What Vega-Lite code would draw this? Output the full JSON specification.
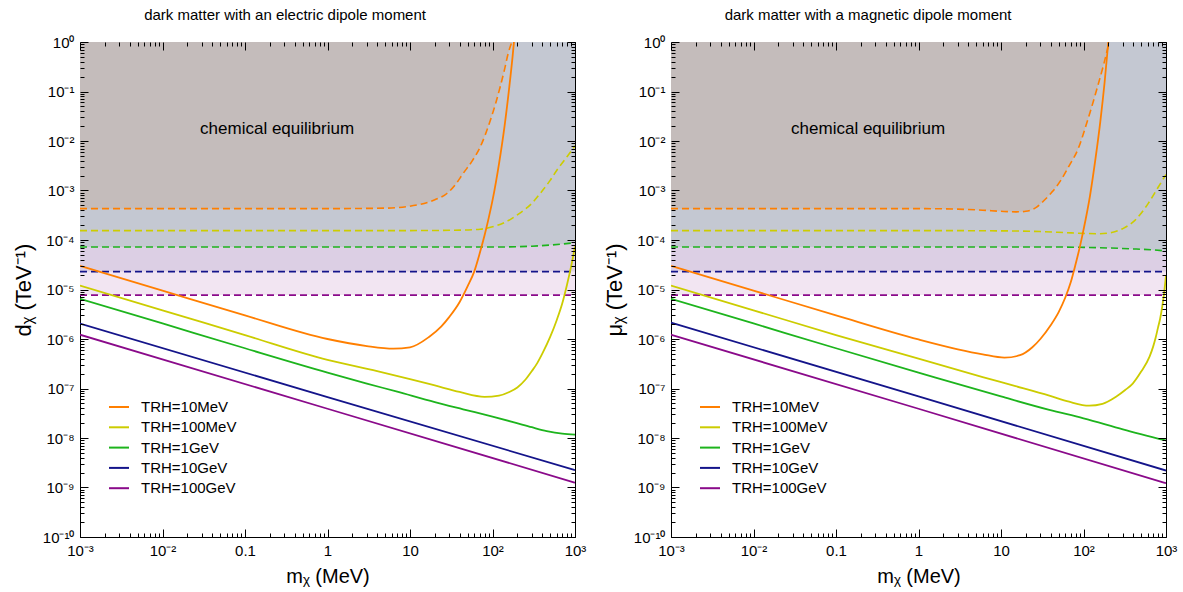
{
  "$schema": "https://vega.github.io/schema/vega-lite/v6.json",
  "padding": {"left": 11, "top": 7, "right": 8, "bottom": 2},
  "config": {
    "font": "Liberation Sans",
    "view": {"stroke": "black", "strokeWidth": 1},
    "axis": {"grid": false, "labelColor": "black", "titleColor": "black", "tickColor": "black", "labelFont": "Liberation Sans", "titleFont": "Liberation Sans"},
    "legend": {"labelFont": "Liberation Sans"}
  },
  "resolve": {"scale": {"color": "independent", "stroke": "independent"}, "legend": {"color": "independent", "stroke": "independent"}},
  "datasets": {
    "c": [
      {"p":"E","k":"s","s":"10MeV","x":0.001,"y":3e-5},{"p":"E","k":"s","s":"10MeV","x":0.01,"y":9.5e-6},{"p":"E","k":"s","s":"10MeV","x":0.1,"y":3e-6},{"p":"E","k":"s","s":"10MeV","x":1,"y":1e-6},{"p":"E","k":"s","s":"10MeV","x":3,"y":7.2e-7},{"p":"E","k":"s","s":"10MeV","x":6.3,"y":6.4e-7},{"p":"E","k":"s","s":"10MeV","x":10,"y":6.8e-7},{"p":"E","k":"s","s":"10MeV","x":17,"y":1.1e-6},{"p":"E","k":"s","s":"10MeV","x":24,"y":1.8e-6},{"p":"E","k":"s","s":"10MeV","x":30,"y":2.8e-6},{"p":"E","k":"s","s":"10MeV","x":40,"y":5.6e-6},{"p":"E","k":"s","s":"10MeV","x":50,"y":1.17e-5},{"p":"E","k":"s","s":"10MeV","x":60,"y":2.3e-5},{"p":"E","k":"s","s":"10MeV","x":70,"y":5.4e-5},{"p":"E","k":"s","s":"10MeV","x":80,"y":1.23e-4},{"p":"E","k":"s","s":"10MeV","x":90,"y":2.8e-4},{"p":"E","k":"s","s":"10MeV","x":100,"y":6.3e-4},{"p":"E","k":"s","s":"10MeV","x":120,"y":3.5e-3},{"p":"E","k":"s","s":"10MeV","x":140,"y":2e-2},{"p":"E","k":"s","s":"10MeV","x":160,"y":0.126},{"p":"E","k":"s","s":"10MeV","x":175,"y":0.5},{"p":"E","k":"s","s":"10MeV","x":182,"y":1},
      {"p":"E","k":"s","s":"100MeV","x":0.001,"y":1.2e-5},{"p":"E","k":"s","s":"100MeV","x":0.01,"y":3.8e-6},{"p":"E","k":"s","s":"100MeV","x":0.1,"y":1.2e-6},{"p":"E","k":"s","s":"100MeV","x":1,"y":3.8e-7},{"p":"E","k":"s","s":"100MeV","x":4,"y":2.25e-7},{"p":"E","k":"s","s":"100MeV","x":10,"y":1.55e-7},{"p":"E","k":"s","s":"100MeV","x":20,"y":1.15e-7},{"p":"E","k":"s","s":"100MeV","x":40,"y":8.5e-8},{"p":"E","k":"s","s":"100MeV","x":80,"y":6.8e-8},{"p":"E","k":"s","s":"100MeV","x":120,"y":7.2e-8},{"p":"E","k":"s","s":"100MeV","x":160,"y":8.5e-8},{"p":"E","k":"s","s":"100MeV","x":200,"y":1.05e-7},{"p":"E","k":"s","s":"100MeV","x":250,"y":1.5e-7},{"p":"E","k":"s","s":"100MeV","x":300,"y":2.25e-7},{"p":"E","k":"s","s":"100MeV","x":350,"y":3.3e-7},{"p":"E","k":"s","s":"100MeV","x":400,"y":5e-7},{"p":"E","k":"s","s":"100MeV","x":500,"y":1.1e-6},{"p":"E","k":"s","s":"100MeV","x":600,"y":2.4e-6},{"p":"E","k":"s","s":"100MeV","x":700,"y":5.2e-6},{"p":"E","k":"s","s":"100MeV","x":800,"y":1.25e-5},{"p":"E","k":"s","s":"100MeV","x":900,"y":3e-5},{"p":"E","k":"s","s":"100MeV","x":1000,"y":7.4e-5},
      {"p":"E","k":"s","s":"1GeV","x":0.001,"y":6.5e-6},{"p":"E","k":"s","s":"1GeV","x":0.01,"y":2.06e-6},{"p":"E","k":"s","s":"1GeV","x":0.1,"y":6.5e-7},{"p":"E","k":"s","s":"1GeV","x":1,"y":2.1e-7},{"p":"E","k":"s","s":"1GeV","x":3,"y":1.26e-7},{"p":"E","k":"s","s":"1GeV","x":7,"y":8.6e-8},{"p":"E","k":"s","s":"1GeV","x":20,"y":5.3e-8},{"p":"E","k":"s","s":"1GeV","x":44,"y":3.8e-8},{"p":"E","k":"s","s":"1GeV","x":100,"y":2.7e-8},{"p":"E","k":"s","s":"1GeV","x":178,"y":2.1e-8},{"p":"E","k":"s","s":"1GeV","x":300,"y":1.65e-8},{"p":"E","k":"s","s":"1GeV","x":454,"y":1.38e-8},{"p":"E","k":"s","s":"1GeV","x":700,"y":1.22e-8},{"p":"E","k":"s","s":"1GeV","x":1000,"y":1.17e-8},
      {"p":"E","k":"s","s":"10GeV","x":0.001,"y":2.05e-6},{"p":"E","k":"s","s":"10GeV","x":1,"y":6.7e-8},{"p":"E","k":"s","s":"10GeV","x":1000,"y":2.25e-9},
      {"p":"E","k":"s","s":"100GeV","x":0.001,"y":1.22e-6},{"p":"E","k":"s","s":"100GeV","x":1,"y":3.9e-8},{"p":"E","k":"s","s":"100GeV","x":1000,"y":1.25e-9},
      {"p":"E","k":"d","s":"10MeV","x":0.001,"y":4.3e-4},{"p":"E","k":"d","s":"10MeV","x":1,"y":4.3e-4},{"p":"E","k":"d","s":"10MeV","x":5,"y":4.4e-4},{"p":"E","k":"d","s":"10MeV","x":13,"y":5.2e-4},{"p":"E","k":"d","s":"10MeV","x":20,"y":6.5e-4},{"p":"E","k":"d","s":"10MeV","x":28,"y":8.7e-4},{"p":"E","k":"d","s":"10MeV","x":36,"y":1.35e-3},{"p":"E","k":"d","s":"10MeV","x":44,"y":2.2e-3},{"p":"E","k":"d","s":"10MeV","x":57,"y":4e-3},{"p":"E","k":"d","s":"10MeV","x":71,"y":7.6e-3},{"p":"E","k":"d","s":"10MeV","x":94,"y":2.6e-2},{"p":"E","k":"d","s":"10MeV","x":110,"y":6e-2},{"p":"E","k":"d","s":"10MeV","x":124,"y":0.125},{"p":"E","k":"d","s":"10MeV","x":140,"y":0.28},{"p":"E","k":"d","s":"10MeV","x":155,"y":0.59},{"p":"E","k":"d","s":"10MeV","x":172,"y":1},
      {"p":"E","k":"d","s":"100MeV","x":0.001,"y":1.55e-4},{"p":"E","k":"d","s":"100MeV","x":10,"y":1.55e-4},{"p":"E","k":"d","s":"100MeV","x":40,"y":1.58e-4},{"p":"E","k":"d","s":"100MeV","x":71,"y":1.65e-4},{"p":"E","k":"d","s":"100MeV","x":100,"y":1.85e-4},{"p":"E","k":"d","s":"100MeV","x":136,"y":2.2e-4},{"p":"E","k":"d","s":"100MeV","x":215,"y":3.5e-4},{"p":"E","k":"d","s":"100MeV","x":300,"y":5.5e-4},{"p":"E","k":"d","s":"100MeV","x":380,"y":8.8e-4},{"p":"E","k":"d","s":"100MeV","x":500,"y":1.6e-3},{"p":"E","k":"d","s":"100MeV","x":605,"y":2.6e-3},{"p":"E","k":"d","s":"100MeV","x":800,"y":4.8e-3},{"p":"E","k":"d","s":"100MeV","x":1000,"y":8e-3},
      {"p":"E","k":"d","s":"1GeV","x":0.001,"y":7.2e-5},{"p":"E","k":"d","s":"1GeV","x":100,"y":7.2e-5},{"p":"E","k":"d","s":"1GeV","x":300,"y":7.5e-5},{"p":"E","k":"d","s":"1GeV","x":500,"y":7.9e-5},{"p":"E","k":"d","s":"1GeV","x":700,"y":8.3e-5},{"p":"E","k":"d","s":"1GeV","x":1000,"y":8.8e-5},
      {"p":"E","k":"d","s":"10GeV","x":0.001,"y":2.3e-5},{"p":"E","k":"d","s":"10GeV","x":1000,"y":2.3e-5},
      {"p":"E","k":"d","s":"100GeV","x":0.001,"y":7.7e-6},{"p":"E","k":"d","s":"100GeV","x":1000,"y":7.7e-6},
      {"p":"M","k":"s","s":"10MeV","x":0.001,"y":3e-5},{"p":"M","k":"s","s":"10MeV","x":0.01,"y":9.5e-6},{"p":"M","k":"s","s":"10MeV","x":0.1,"y":3e-6},{"p":"M","k":"s","s":"10MeV","x":1,"y":9.8e-7},{"p":"M","k":"s","s":"10MeV","x":3,"y":6.2e-7},{"p":"M","k":"s","s":"10MeV","x":6,"y":4.9e-7},{"p":"M","k":"s","s":"10MeV","x":11,"y":4.2e-7},{"p":"M","k":"s","s":"10MeV","x":17,"y":4.7e-7},{"p":"M","k":"s","s":"10MeV","x":24,"y":6.8e-7},{"p":"M","k":"s","s":"10MeV","x":30,"y":1e-6},{"p":"M","k":"s","s":"10MeV","x":40,"y":1.9e-6},{"p":"M","k":"s","s":"10MeV","x":50,"y":3.5e-6},{"p":"M","k":"s","s":"10MeV","x":60,"y":6.8e-6},{"p":"M","k":"s","s":"10MeV","x":70,"y":1.4e-5},{"p":"M","k":"s","s":"10MeV","x":80,"y":3.2e-5},{"p":"M","k":"s","s":"10MeV","x":90,"y":7.1e-5},{"p":"M","k":"s","s":"10MeV","x":100,"y":1.6e-4},{"p":"M","k":"s","s":"10MeV","x":120,"y":7.9e-4},{"p":"M","k":"s","s":"10MeV","x":140,"y":4.5e-3},{"p":"M","k":"s","s":"10MeV","x":160,"y":2.5e-2},{"p":"M","k":"s","s":"10MeV","x":180,"y":0.15},{"p":"M","k":"s","s":"10MeV","x":200,"y":1},
      {"p":"M","k":"s","s":"100MeV","x":0.001,"y":1.2e-5},{"p":"M","k":"s","s":"100MeV","x":0.01,"y":3.8e-6},{"p":"M","k":"s","s":"100MeV","x":0.1,"y":1.2e-6},{"p":"M","k":"s","s":"100MeV","x":1,"y":4e-7},{"p":"M","k":"s","s":"100MeV","x":6,"y":1.7e-7},{"p":"M","k":"s","s":"100MeV","x":15,"y":1.12e-7},{"p":"M","k":"s","s":"100MeV","x":38.5,"y":7.2e-8},{"p":"M","k":"s","s":"100MeV","x":67,"y":5.4e-8},{"p":"M","k":"s","s":"100MeV","x":117,"y":4.5e-8},{"p":"M","k":"s","s":"100MeV","x":170,"y":4.9e-8},{"p":"M","k":"s","s":"100MeV","x":248,"y":6.8e-8},{"p":"M","k":"s","s":"100MeV","x":320,"y":9.3e-8},{"p":"M","k":"s","s":"100MeV","x":395,"y":1.26e-7},{"p":"M","k":"s","s":"100MeV","x":500,"y":2.2e-7},{"p":"M","k":"s","s":"100MeV","x":632,"y":4.4e-7},{"p":"M","k":"s","s":"100MeV","x":700,"y":7.1e-7},{"p":"M","k":"s","s":"100MeV","x":750,"y":1.07e-6},{"p":"M","k":"s","s":"100MeV","x":800,"y":1.7e-6},{"p":"M","k":"s","s":"100MeV","x":850,"y":2.6e-6},{"p":"M","k":"s","s":"100MeV","x":900,"y":4.5e-6},{"p":"M","k":"s","s":"100MeV","x":950,"y":8.7e-6},{"p":"M","k":"s","s":"100MeV","x":1000,"y":1.9e-5},
      {"p":"M","k":"s","s":"1GeV","x":0.001,"y":6.5e-6},{"p":"M","k":"s","s":"1GeV","x":0.01,"y":2.06e-6},{"p":"M","k":"s","s":"1GeV","x":0.1,"y":6.5e-7},{"p":"M","k":"s","s":"1GeV","x":1,"y":2.1e-7},{"p":"M","k":"s","s":"1GeV","x":10,"y":6.9e-8},{"p":"M","k":"s","s":"1GeV","x":38.5,"y":3.7e-8},{"p":"M","k":"s","s":"1GeV","x":100,"y":2.5e-8},{"p":"M","k":"s","s":"1GeV","x":300,"y":1.5e-8},{"p":"M","k":"s","s":"1GeV","x":1000,"y":8.9e-9},
      {"p":"M","k":"s","s":"10GeV","x":0.001,"y":2.15e-6},{"p":"M","k":"s","s":"10GeV","x":1,"y":6.9e-8},{"p":"M","k":"s","s":"10GeV","x":1000,"y":2.2e-9},
      {"p":"M","k":"s","s":"100GeV","x":0.001,"y":1.22e-6},{"p":"M","k":"s","s":"100GeV","x":1,"y":3.9e-8},{"p":"M","k":"s","s":"100GeV","x":1000,"y":1.22e-9},
      {"p":"M","k":"d","s":"10MeV","x":0.001,"y":4.3e-4},{"p":"M","k":"d","s":"10MeV","x":1,"y":4.3e-4},{"p":"M","k":"d","s":"10MeV","x":3,"y":4.2e-4},{"p":"M","k":"d","s":"10MeV","x":6,"y":4e-4},{"p":"M","k":"d","s":"10MeV","x":10,"y":3.8e-4},{"p":"M","k":"d","s":"10MeV","x":15,"y":3.7e-4},{"p":"M","k":"d","s":"10MeV","x":20,"y":3.8e-4},{"p":"M","k":"d","s":"10MeV","x":27,"y":4.6e-4},{"p":"M","k":"d","s":"10MeV","x":33,"y":6.2e-4},{"p":"M","k":"d","s":"10MeV","x":42,"y":9.5e-4},{"p":"M","k":"d","s":"10MeV","x":53,"y":1.6e-3},{"p":"M","k":"d","s":"10MeV","x":68,"y":3.3e-3},{"p":"M","k":"d","s":"10MeV","x":85,"y":6.6e-3},{"p":"M","k":"d","s":"10MeV","x":112,"y":2.6e-2},{"p":"M","k":"d","s":"10MeV","x":148,"y":0.125},{"p":"M","k":"d","s":"10MeV","x":177,"y":0.37},{"p":"M","k":"d","s":"10MeV","x":205,"y":1},
      {"p":"M","k":"d","s":"100MeV","x":0.001,"y":1.55e-4},{"p":"M","k":"d","s":"100MeV","x":1,"y":1.55e-4},{"p":"M","k":"d","s":"100MeV","x":10,"y":1.53e-4},{"p":"M","k":"d","s":"100MeV","x":30,"y":1.48e-4},{"p":"M","k":"d","s":"100MeV","x":60,"y":1.41e-4},{"p":"M","k":"d","s":"100MeV","x":100,"y":1.36e-4},{"p":"M","k":"d","s":"100MeV","x":150,"y":1.34e-4},{"p":"M","k":"d","s":"100MeV","x":220,"y":1.42e-4},{"p":"M","k":"d","s":"100MeV","x":300,"y":1.7e-4},{"p":"M","k":"d","s":"100MeV","x":420,"y":2.5e-4},{"p":"M","k":"d","s":"100MeV","x":610,"y":5.5e-4},{"p":"M","k":"d","s":"100MeV","x":800,"y":1.15e-3},{"p":"M","k":"d","s":"100MeV","x":1000,"y":2.1e-3},
      {"p":"M","k":"d","s":"1GeV","x":0.001,"y":7.2e-5},{"p":"M","k":"d","s":"1GeV","x":50,"y":7.2e-5},{"p":"M","k":"d","s":"1GeV","x":100,"y":7.1e-5},{"p":"M","k":"d","s":"1GeV","x":200,"y":6.9e-5},{"p":"M","k":"d","s":"1GeV","x":400,"y":6.6e-5},{"p":"M","k":"d","s":"1GeV","x":700,"y":6.3e-5},{"p":"M","k":"d","s":"1GeV","x":1000,"y":6e-5},
      {"p":"M","k":"d","s":"10GeV","x":0.001,"y":2.3e-5},{"p":"M","k":"d","s":"10GeV","x":1000,"y":2.3e-5},
      {"p":"M","k":"d","s":"100GeV","x":0.001,"y":7.7e-6},{"p":"M","k":"d","s":"100GeV","x":1000,"y":7.7e-6}
    ],
    "lab": [{"x": 0.245, "y": 0.0174, "t": "chemical equilibrium"}]
  },
  "spacing": 15,
  "hconcat": [
    {
      "width": 495, "height": 495,
      "title": {"text": "dark matter with an electric dipole moment", "frame": "bounds", "dx": -14, "fontSize": 15, "fontWeight": "normal", "font": "Liberation Sans", "offset": 12, "color": "black"},
      "resolve": {"axis": {"x": "independent", "y": "independent"}},
      "layer": [
        {"data": {"name": "c"}, "transform": [{"filter": "datum.p=='E' && datum.k=='d' && datum.s=='100GeV'"}],
         "mark": {"type": "area", "color": "#f2e5f2", "interpolate": "monotone", "clip": true},
         "encoding": {
           "x": {"field": "x", "type": "quantitative", "scale": {"type": "log", "domain": [0.001, 1000], "nice": false},
                 "axis": {"orient": "bottom", "zindex": 2, "values": [0.001,0.002,0.003,0.004,0.005,0.006,0.007,0.008,0.009,0.01,0.02,0.03,0.04,0.05,0.06,0.07,0.08,0.09,0.1,0.2,0.3,0.4,0.5,0.6,0.7,0.8,0.9,1,2,3,4,5,6,7,8,9,10,20,30,40,50,60,70,80,90,100,200,300,400,500,600,700,800,900,1000], "ticks": true, "tickSize": -8, "tickDash": {"condition": {"test": "abs(log(datum.value)/LN10 - round(log(datum.value)/LN10)) < 0.001", "value": [8, 0]}, "value": [4, 20]}, "domain": false, "labelExpr": "abs(log(datum.value)/LN10 - round(log(datum.value)/LN10)) < 0.001 ? ['10⁻³','10⁻²','0.1','1','10','10²','10³'][round(log(datum.value)/LN10)+3] : ''", "labelFontSize": 15, "labelPadding": 14, "labelFlush": false, "labelOverlap": false, "title": "mᵪ (MeV)", "titleFontSize": 20, "titleFontWeight": "normal", "titlePadding": 8}},
           "y": {"field": "y", "type": "quantitative", "scale": {"type": "log", "domain": [1e-10, 1], "nice": false},
                 "axis": {"orient": "left", "zindex": 2, "values": [1e-10,2e-10,3e-10,4e-10,5e-10,6e-10,7e-10,8e-10,9e-10,1e-9,2e-9,3e-9,4e-9,5e-9,6e-9,7e-9,8e-9,9e-9,1e-8,2e-8,3e-8,4e-8,5e-8,6e-8,7e-8,8e-8,9e-8,1e-7,2e-7,3e-7,4e-7,5e-7,6e-7,7e-7,8e-7,9e-7,1e-6,2e-6,3e-6,4e-6,5e-6,6e-6,7e-6,8e-6,9e-6,1e-5,2e-5,3e-5,4e-5,5e-5,6e-5,7e-5,8e-5,9e-5,1e-4,2e-4,3e-4,4e-4,5e-4,6e-4,7e-4,8e-4,9e-4,1e-3,2e-3,3e-3,4e-3,5e-3,6e-3,7e-3,8e-3,9e-3,0.01,0.02,0.03,0.04,0.05,0.06,0.07,0.08,0.09,0.1,0.2,0.3,0.4,0.5,0.6,0.7,0.8,0.9,1], "ticks": true, "tickSize": -8, "tickDash": {"condition": {"test": "abs(log(datum.value)/LN10 - round(log(datum.value)/LN10)) < 0.001", "value": [8, 0]}, "value": [4, 20]}, "domain": false, "labelExpr": "abs(log(datum.value)/LN10 - round(log(datum.value)/LN10)) < 0.001 ? '10' + ['⁰','⁻¹','⁻²','⁻³','⁻⁴','⁻⁵','⁻⁶','⁻⁷','⁻⁸','⁻⁹','⁻¹⁰'][round(-log(datum.value)/LN10)] : ''", "labelFontSize": 15, "labelPadding": 14, "labelFlush": false, "labelOverlap": false, "title": "dᵪ (TeV⁻¹)", "titleFontSize": 22, "titleFontWeight": "normal", "titlePadding": 7}},
           "y2": {"datum": 1}
         }},
        {"data": {"name": "c"}, "transform": [{"filter": "datum.p=='E' && datum.k=='d' && datum.s=='10GeV'"}],
         "mark": {"type": "area", "color": "#dccfe4", "interpolate": "monotone", "clip": true},
         "encoding": {
           "x": {"field": "x", "type": "quantitative", "scale": {"type": "log", "domain": [0.001, 1000], "nice": false},
                 "axis": {"orient": "top", "zindex": 2, "values": [0.001,0.002,0.003,0.004,0.005,0.006,0.007,0.008,0.009,0.01,0.02,0.03,0.04,0.05,0.06,0.07,0.08,0.09,0.1,0.2,0.3,0.4,0.5,0.6,0.7,0.8,0.9,1,2,3,4,5,6,7,8,9,10,20,30,40,50,60,70,80,90,100,200,300,400,500,600,700,800,900,1000], "labels": false, "domain": false, "ticks": true, "tickSize": -8, "tickDash": {"condition": {"test": "abs(log(datum.value)/LN10 - round(log(datum.value)/LN10)) < 0.001", "value": [8, 0]}, "value": [4, 20]}, "title": null}},
           "y": {"field": "y", "type": "quantitative", "scale": {"type": "log", "domain": [1e-10, 1], "nice": false},
                 "axis": {"orient": "right", "zindex": 2, "values": [1e-10,2e-10,3e-10,4e-10,5e-10,6e-10,7e-10,8e-10,9e-10,1e-9,2e-9,3e-9,4e-9,5e-9,6e-9,7e-9,8e-9,9e-9,1e-8,2e-8,3e-8,4e-8,5e-8,6e-8,7e-8,8e-8,9e-8,1e-7,2e-7,3e-7,4e-7,5e-7,6e-7,7e-7,8e-7,9e-7,1e-6,2e-6,3e-6,4e-6,5e-6,6e-6,7e-6,8e-6,9e-6,1e-5,2e-5,3e-5,4e-5,5e-5,6e-5,7e-5,8e-5,9e-5,1e-4,2e-4,3e-4,4e-4,5e-4,6e-4,7e-4,8e-4,9e-4,1e-3,2e-3,3e-3,4e-3,5e-3,6e-3,7e-3,8e-3,9e-3,0.01,0.02,0.03,0.04,0.05,0.06,0.07,0.08,0.09,0.1,0.2,0.3,0.4,0.5,0.6,0.7,0.8,0.9,1], "labels": false, "domain": false, "ticks": true, "tickSize": -8, "tickDash": {"condition": {"test": "abs(log(datum.value)/LN10 - round(log(datum.value)/LN10)) < 0.001", "value": [8, 0]}, "value": [4, 20]}, "title": null}},
           "y2": {"datum": 1}
         }},
        {"data": {"name": "c"}, "transform": [{"filter": "datum.p=='E' && datum.k=='d' && datum.s=='1GeV'"}],
         "mark": {"type": "area", "color": "#c4c8d2", "interpolate": "monotone", "clip": true},
         "encoding": {
           "x": {"field": "x", "type": "quantitative", "scale": {"type": "log", "domain": [0.001, 1000], "nice": false}, "axis": null},
           "y": {"field": "y", "type": "quantitative", "scale": {"type": "log", "domain": [1e-10, 1], "nice": false}, "axis": null},
           "y2": {"datum": 1}
         }},
        {"data": {"name": "c"}, "transform": [{"filter": "datum.p=='E' && datum.k=='d' && datum.s=='10MeV'"}],
         "mark": {"type": "area", "color": "#c4bcbb", "interpolate": "monotone", "clip": true},
         "encoding": {
           "x": {"field": "x", "type": "quantitative", "scale": {"type": "log", "domain": [0.001, 1000], "nice": false}, "axis": null},
           "y": {"field": "y", "type": "quantitative", "scale": {"type": "log", "domain": [1e-10, 1], "nice": false}, "axis": null},
           "y2": {"datum": 1}
         }},
        {"data": {"name": "c"}, "transform": [{"filter": "datum.p=='E' && datum.k=='d'"}],
         "mark": {"type": "line", "strokeDash": [7, 4], "strokeWidth": 1.6, "interpolate": "monotone", "clip": true},
         "encoding": {
           "x": {"field": "x", "type": "quantitative", "scale": {"type": "log", "domain": [0.001, 1000], "nice": false}, "axis": null},
           "y": {"field": "y", "type": "quantitative", "scale": {"type": "log", "domain": [1e-10, 1], "nice": false}, "axis": null},
           "stroke": {"field": "s", "type": "nominal", "scale": {"domain": ["100GeV","10GeV","1GeV","100MeV","10MeV"], "range": ["#8a0a8a","#14148a","#1db41d","#cccc00","#ff7f00"]}, "legend": null}
         }},
        {"data": {"name": "c"}, "transform": [{"filter": "datum.p=='E' && datum.k=='s'"}],
         "mark": {"type": "line", "strokeWidth": 1.8, "interpolate": "monotone", "clip": true},
         "encoding": {
           "x": {"field": "x", "type": "quantitative", "scale": {"type": "log", "domain": [0.001, 1000], "nice": false}, "axis": null},
           "y": {"field": "y", "type": "quantitative", "scale": {"type": "log", "domain": [1e-10, 1], "nice": false}, "axis": null},
           "color": {"field": "s", "type": "nominal", "scale": {"domain": ["10MeV","100MeV","1GeV","10GeV","100GeV"], "range": ["#ff7f00","#cccc00","#1db41d","#14148a","#8a0a8a"]},
                     "legend": {"orient": "none", "legendX": 28, "legendY": 354, "title": null, "symbolType": "stroke", "symbolStrokeWidth": 2, "symbolSize": 400, "labelFontSize": 15, "labelColor": "black", "labelOffset": 11, "rowPadding": 1.3, "padding": 0, "labelExpr": "'TRH=' + datum.label"}}
         }},
        {"data": {"name": "lab"},
         "mark": {"type": "text", "fontSize": 17, "color": "black", "align": "center", "baseline": "middle", "font": "Liberation Sans"},
         "encoding": {
           "x": {"field": "x", "type": "quantitative", "scale": {"type": "log", "domain": [0.001, 1000], "nice": false}, "axis": null},
           "y": {"field": "y", "type": "quantitative", "scale": {"type": "log", "domain": [1e-10, 1], "nice": false}, "axis": null},
           "text": {"field": "t"}
         }}
      ]
    },
    {
      "width": 495, "height": 495,
      "title": {"text": "dark matter with a magnetic dipole moment", "frame": "bounds", "dx": -22, "fontSize": 15, "fontWeight": "normal", "font": "Liberation Sans", "offset": 12, "color": "black"},
      "resolve": {"axis": {"x": "independent", "y": "independent"}},
      "layer": [
        {"data": {"name": "c"}, "transform": [{"filter": "datum.p=='M' && datum.k=='d' && datum.s=='100GeV'"}],
         "mark": {"type": "area", "color": "#f2e5f2", "interpolate": "monotone", "clip": true},
         "encoding": {
           "x": {"field": "x", "type": "quantitative", "scale": {"type": "log", "domain": [0.001, 1000], "nice": false},
                 "axis": {"orient": "bottom", "zindex": 2, "values": [0.001,0.002,0.003,0.004,0.005,0.006,0.007,0.008,0.009,0.01,0.02,0.03,0.04,0.05,0.06,0.07,0.08,0.09,0.1,0.2,0.3,0.4,0.5,0.6,0.7,0.8,0.9,1,2,3,4,5,6,7,8,9,10,20,30,40,50,60,70,80,90,100,200,300,400,500,600,700,800,900,1000], "ticks": true, "tickSize": -8, "tickDash": {"condition": {"test": "abs(log(datum.value)/LN10 - round(log(datum.value)/LN10)) < 0.001", "value": [8, 0]}, "value": [4, 20]}, "domain": false, "labelExpr": "abs(log(datum.value)/LN10 - round(log(datum.value)/LN10)) < 0.001 ? ['10⁻³','10⁻²','0.1','1','10','10²','10³'][round(log(datum.value)/LN10)+3] : ''", "labelFontSize": 15, "labelPadding": 14, "labelFlush": false, "labelOverlap": false, "title": "mᵪ (MeV)", "titleFontSize": 20, "titleFontWeight": "normal", "titlePadding": 8}},
           "y": {"field": "y", "type": "quantitative", "scale": {"type": "log", "domain": [1e-10, 1], "nice": false},
                 "axis": {"orient": "left", "zindex": 2, "values": [1e-10,2e-10,3e-10,4e-10,5e-10,6e-10,7e-10,8e-10,9e-10,1e-9,2e-9,3e-9,4e-9,5e-9,6e-9,7e-9,8e-9,9e-9,1e-8,2e-8,3e-8,4e-8,5e-8,6e-8,7e-8,8e-8,9e-8,1e-7,2e-7,3e-7,4e-7,5e-7,6e-7,7e-7,8e-7,9e-7,1e-6,2e-6,3e-6,4e-6,5e-6,6e-6,7e-6,8e-6,9e-6,1e-5,2e-5,3e-5,4e-5,5e-5,6e-5,7e-5,8e-5,9e-5,1e-4,2e-4,3e-4,4e-4,5e-4,6e-4,7e-4,8e-4,9e-4,1e-3,2e-3,3e-3,4e-3,5e-3,6e-3,7e-3,8e-3,9e-3,0.01,0.02,0.03,0.04,0.05,0.06,0.07,0.08,0.09,0.1,0.2,0.3,0.4,0.5,0.6,0.7,0.8,0.9,1], "ticks": true, "tickSize": -8, "tickDash": {"condition": {"test": "abs(log(datum.value)/LN10 - round(log(datum.value)/LN10)) < 0.001", "value": [8, 0]}, "value": [4, 20]}, "domain": false, "labelExpr": "abs(log(datum.value)/LN10 - round(log(datum.value)/LN10)) < 0.001 ? '10' + ['⁰','⁻¹','⁻²','⁻³','⁻⁴','⁻⁵','⁻⁶','⁻⁷','⁻⁸','⁻⁹','⁻¹⁰'][round(-log(datum.value)/LN10)] : ''", "labelFontSize": 15, "labelPadding": 14, "labelFlush": false, "labelOverlap": false, "title": "μᵪ (TeV⁻¹)", "titleFontSize": 22, "titleFontWeight": "normal", "titlePadding": 7}},
           "y2": {"datum": 1}
         }},
        {"data": {"name": "c"}, "transform": [{"filter": "datum.p=='M' && datum.k=='d' && datum.s=='10GeV'"}],
         "mark": {"type": "area", "color": "#dccfe4", "interpolate": "monotone", "clip": true},
         "encoding": {
           "x": {"field": "x", "type": "quantitative", "scale": {"type": "log", "domain": [0.001, 1000], "nice": false},
                 "axis": {"orient": "top", "zindex": 2, "values": [0.001,0.002,0.003,0.004,0.005,0.006,0.007,0.008,0.009,0.01,0.02,0.03,0.04,0.05,0.06,0.07,0.08,0.09,0.1,0.2,0.3,0.4,0.5,0.6,0.7,0.8,0.9,1,2,3,4,5,6,7,8,9,10,20,30,40,50,60,70,80,90,100,200,300,400,500,600,700,800,900,1000], "labels": false, "domain": false, "ticks": true, "tickSize": -8, "tickDash": {"condition": {"test": "abs(log(datum.value)/LN10 - round(log(datum.value)/LN10)) < 0.001", "value": [8, 0]}, "value": [4, 20]}, "title": null}},
           "y": {"field": "y", "type": "quantitative", "scale": {"type": "log", "domain": [1e-10, 1], "nice": false},
                 "axis": {"orient": "right", "zindex": 2, "values": [1e-10,2e-10,3e-10,4e-10,5e-10,6e-10,7e-10,8e-10,9e-10,1e-9,2e-9,3e-9,4e-9,5e-9,6e-9,7e-9,8e-9,9e-9,1e-8,2e-8,3e-8,4e-8,5e-8,6e-8,7e-8,8e-8,9e-8,1e-7,2e-7,3e-7,4e-7,5e-7,6e-7,7e-7,8e-7,9e-7,1e-6,2e-6,3e-6,4e-6,5e-6,6e-6,7e-6,8e-6,9e-6,1e-5,2e-5,3e-5,4e-5,5e-5,6e-5,7e-5,8e-5,9e-5,1e-4,2e-4,3e-4,4e-4,5e-4,6e-4,7e-4,8e-4,9e-4,1e-3,2e-3,3e-3,4e-3,5e-3,6e-3,7e-3,8e-3,9e-3,0.01,0.02,0.03,0.04,0.05,0.06,0.07,0.08,0.09,0.1,0.2,0.3,0.4,0.5,0.6,0.7,0.8,0.9,1], "labels": false, "domain": false, "ticks": true, "tickSize": -8, "tickDash": {"condition": {"test": "abs(log(datum.value)/LN10 - round(log(datum.value)/LN10)) < 0.001", "value": [8, 0]}, "value": [4, 20]}, "title": null}},
           "y2": {"datum": 1}
         }},
        {"data": {"name": "c"}, "transform": [{"filter": "datum.p=='M' && datum.k=='d' && datum.s=='1GeV'"}],
         "mark": {"type": "area", "color": "#c4c8d2", "interpolate": "monotone", "clip": true},
         "encoding": {
           "x": {"field": "x", "type": "quantitative", "scale": {"type": "log", "domain": [0.001, 1000], "nice": false}, "axis": null},
           "y": {"field": "y", "type": "quantitative", "scale": {"type": "log", "domain": [1e-10, 1], "nice": false}, "axis": null},
           "y2": {"datum": 1}
         }},
        {"data": {"name": "c"}, "transform": [{"filter": "datum.p=='M' && datum.k=='d' && datum.s=='10MeV'"}],
         "mark": {"type": "area", "color": "#c4bcbb", "interpolate": "monotone", "clip": true},
         "encoding": {
           "x": {"field": "x", "type": "quantitative", "scale": {"type": "log", "domain": [0.001, 1000], "nice": false}, "axis": null},
           "y": {"field": "y", "type": "quantitative", "scale": {"type": "log", "domain": [1e-10, 1], "nice": false}, "axis": null},
           "y2": {"datum": 1}
         }},
        {"data": {"name": "c"}, "transform": [{"filter": "datum.p=='M' && datum.k=='d'"}],
         "mark": {"type": "line", "strokeDash": [7, 4], "strokeWidth": 1.6, "interpolate": "monotone", "clip": true},
         "encoding": {
           "x": {"field": "x", "type": "quantitative", "scale": {"type": "log", "domain": [0.001, 1000], "nice": false}, "axis": null},
           "y": {"field": "y", "type": "quantitative", "scale": {"type": "log", "domain": [1e-10, 1], "nice": false}, "axis": null},
           "stroke": {"field": "s", "type": "nominal", "scale": {"domain": ["100GeV","10GeV","1GeV","100MeV","10MeV"], "range": ["#8a0a8a","#14148a","#1db41d","#cccc00","#ff7f00"]}, "legend": null}
         }},
        {"data": {"name": "c"}, "transform": [{"filter": "datum.p=='M' && datum.k=='s'"}],
         "mark": {"type": "line", "strokeWidth": 1.8, "interpolate": "monotone", "clip": true},
         "encoding": {
           "x": {"field": "x", "type": "quantitative", "scale": {"type": "log", "domain": [0.001, 1000], "nice": false}, "axis": null},
           "y": {"field": "y", "type": "quantitative", "scale": {"type": "log", "domain": [1e-10, 1], "nice": false}, "axis": null},
           "color": {"field": "s", "type": "nominal", "scale": {"domain": ["10MeV","100MeV","1GeV","10GeV","100GeV"], "range": ["#ff7f00","#cccc00","#1db41d","#14148a","#8a0a8a"]},
                     "legend": {"orient": "none", "legendX": 28, "legendY": 354, "title": null, "symbolType": "stroke", "symbolStrokeWidth": 2, "symbolSize": 400, "labelFontSize": 15, "labelColor": "black", "labelOffset": 11, "rowPadding": 1.3, "padding": 0, "labelExpr": "'TRH=' + datum.label"}}
         }},
        {"data": {"name": "lab"},
         "mark": {"type": "text", "fontSize": 17, "color": "black", "align": "center", "baseline": "middle", "font": "Liberation Sans"},
         "encoding": {
           "x": {"field": "x", "type": "quantitative", "scale": {"type": "log", "domain": [0.001, 1000], "nice": false}, "axis": null},
           "y": {"field": "y", "type": "quantitative", "scale": {"type": "log", "domain": [1e-10, 1], "nice": false}, "axis": null},
           "text": {"field": "t"}
         }}
      ]
    }
  ]
}
